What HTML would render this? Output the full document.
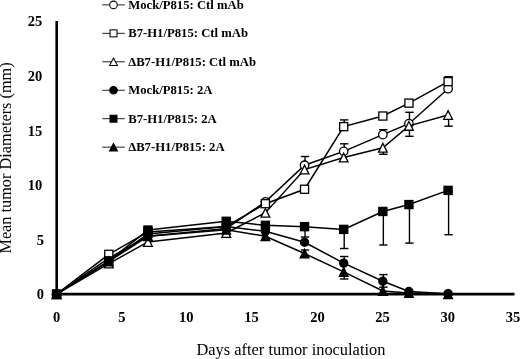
<!DOCTYPE html>
<html><head><meta charset="utf-8"><style>
html,body{margin:0;padding:0;background:#fff;}
svg{display:block;will-change:transform;}
.tk{font-family:"Liberation Serif",serif;font-weight:bold;font-size:14.5px;fill:#000;}
.ttl{font-family:"Liberation Serif",serif;font-size:16.4px;fill:#000;}
.lg{font-family:"Liberation Serif",serif;font-weight:bold;font-size:12.7px;fill:#000;}
</style></head><body>
<svg width="520" height="359" viewBox="0 0 520 359">
<line x1="56.7" y1="21" x2="56.7" y2="295.5" stroke="#000" stroke-width="2.6"/>
<line x1="55.5" y1="294.2" x2="514.5" y2="294.2" stroke="#000" stroke-width="2.8"/>
<text x="43.90" y="299.05" text-anchor="end" class="tk">0</text>
<text x="43.90" y="245.20" text-anchor="end" class="tk">5</text>
<text x="42.30" y="189.75" text-anchor="end" class="tk">10</text>
<text x="42.30" y="135.80" text-anchor="end" class="tk">15</text>
<text x="42.30" y="81.25" text-anchor="end" class="tk">20</text>
<text x="42.30" y="25.80" text-anchor="end" class="tk">25</text>
<text x="56.60" y="321.9" text-anchor="middle" class="tk">0</text>
<text x="121.80" y="321.9" text-anchor="middle" class="tk">5</text>
<text x="186.20" y="321.9" text-anchor="middle" class="tk">10</text>
<text x="251.40" y="321.9" text-anchor="middle" class="tk">15</text>
<text x="317.40" y="321.9" text-anchor="middle" class="tk">20</text>
<text x="382.60" y="321.9" text-anchor="middle" class="tk">25</text>
<text x="447.80" y="321.9" text-anchor="middle" class="tk">30</text>
<text x="513.00" y="321.9" text-anchor="middle" class="tk">35</text>
<text x="196.5" y="355.4" class="ttl">Days after tumor inoculation</text>
<text transform="translate(10.8,253.6) rotate(-90)" x="0" y="0" class="ttl" style="font-size:16.3px">Mean tumor Diameters (mm)</text>
<line x1="305.05" y1="165.23" x2="305.05" y2="156.50" stroke="#000" stroke-width="1.4"/>
<line x1="300.85" y1="156.50" x2="309.25" y2="156.50" stroke="#000" stroke-width="1.4"/>
<line x1="344.20" y1="151.34" x2="344.20" y2="143.80" stroke="#000" stroke-width="1.4"/>
<line x1="340.00" y1="143.80" x2="348.40" y2="143.80" stroke="#000" stroke-width="1.4"/>
<line x1="383.35" y1="134.62" x2="383.35" y2="129.70" stroke="#000" stroke-width="1.4"/>
<line x1="379.15" y1="129.70" x2="387.55" y2="129.70" stroke="#000" stroke-width="1.4"/>
<line x1="344.20" y1="126.64" x2="344.20" y2="119.90" stroke="#000" stroke-width="1.4"/>
<line x1="340.00" y1="119.90" x2="348.40" y2="119.90" stroke="#000" stroke-width="1.4"/>
<line x1="448.60" y1="81.61" x2="448.60" y2="76.70" stroke="#000" stroke-width="1.4"/>
<line x1="444.40" y1="76.70" x2="452.80" y2="76.70" stroke="#000" stroke-width="1.4"/>
<line x1="409.45" y1="125.88" x2="409.45" y2="136.30" stroke="#000" stroke-width="1.4"/>
<line x1="405.25" y1="136.30" x2="413.65" y2="136.30" stroke="#000" stroke-width="1.4"/>
<line x1="409.45" y1="125.88" x2="409.45" y2="112.30" stroke="#000" stroke-width="1.4"/>
<line x1="405.25" y1="112.30" x2="413.65" y2="112.30" stroke="#000" stroke-width="1.4"/>
<line x1="448.60" y1="114.95" x2="448.60" y2="126.20" stroke="#000" stroke-width="1.4"/>
<line x1="444.40" y1="126.20" x2="452.80" y2="126.20" stroke="#000" stroke-width="1.4"/>
<line x1="383.35" y1="147.74" x2="383.35" y2="154.30" stroke="#000" stroke-width="1.4"/>
<line x1="379.15" y1="154.30" x2="387.55" y2="154.30" stroke="#000" stroke-width="1.4"/>
<line x1="305.05" y1="226.65" x2="305.05" y2="237.00" stroke="#000" stroke-width="1.4"/>
<line x1="300.85" y1="237.00" x2="309.25" y2="237.00" stroke="#000" stroke-width="1.4"/>
<line x1="344.20" y1="229.39" x2="344.20" y2="248.50" stroke="#000" stroke-width="1.4"/>
<line x1="340.00" y1="248.50" x2="348.40" y2="248.50" stroke="#000" stroke-width="1.4"/>
<line x1="383.35" y1="211.46" x2="383.35" y2="245.00" stroke="#000" stroke-width="1.4"/>
<line x1="379.15" y1="245.00" x2="387.55" y2="245.00" stroke="#000" stroke-width="1.4"/>
<line x1="409.45" y1="204.57" x2="409.45" y2="243.10" stroke="#000" stroke-width="1.4"/>
<line x1="405.25" y1="243.10" x2="413.65" y2="243.10" stroke="#000" stroke-width="1.4"/>
<line x1="448.60" y1="190.37" x2="448.60" y2="234.70" stroke="#000" stroke-width="1.4"/>
<line x1="444.40" y1="234.70" x2="452.80" y2="234.70" stroke="#000" stroke-width="1.4"/>
<line x1="344.20" y1="263.16" x2="344.20" y2="256.50" stroke="#000" stroke-width="1.4"/>
<line x1="340.00" y1="256.50" x2="348.40" y2="256.50" stroke="#000" stroke-width="1.4"/>
<line x1="383.35" y1="281.30" x2="383.35" y2="274.60" stroke="#000" stroke-width="1.4"/>
<line x1="379.15" y1="274.60" x2="387.55" y2="274.60" stroke="#000" stroke-width="1.4"/>
<line x1="344.20" y1="271.90" x2="344.20" y2="279.00" stroke="#000" stroke-width="1.4"/>
<line x1="340.00" y1="279.00" x2="348.40" y2="279.00" stroke="#000" stroke-width="1.4"/>
<line x1="305.05" y1="253.54" x2="305.05" y2="250.00" stroke="#000" stroke-width="1.4"/>
<line x1="300.85" y1="250.00" x2="309.25" y2="250.00" stroke="#000" stroke-width="1.4"/>
<line x1="383.35" y1="281.30" x2="383.35" y2="287.20" stroke="#000" stroke-width="1.4"/>
<line x1="379.15" y1="287.20" x2="387.55" y2="287.20" stroke="#000" stroke-width="1.4"/>
<polyline points="56.60,294.20 108.80,258.13 147.95,236.27 226.25,228.62 265.40,201.84 304.55,165.23 343.70,151.34 382.85,134.62 408.95,123.69 448.10,88.72" fill="none" stroke="#000" stroke-width="1.5"/>
<circle cx="56.60" cy="294.20" r="4.25" fill="#fff" stroke="#000" stroke-width="1.3"/>
<circle cx="108.80" cy="258.13" r="4.25" fill="#fff" stroke="#000" stroke-width="1.3"/>
<circle cx="147.95" cy="236.27" r="4.25" fill="#fff" stroke="#000" stroke-width="1.3"/>
<circle cx="226.25" cy="228.62" r="4.25" fill="#fff" stroke="#000" stroke-width="1.3"/>
<circle cx="265.40" cy="201.84" r="4.25" fill="#fff" stroke="#000" stroke-width="1.3"/>
<circle cx="304.55" cy="165.23" r="4.25" fill="#fff" stroke="#000" stroke-width="1.3"/>
<circle cx="343.70" cy="151.34" r="4.25" fill="#fff" stroke="#000" stroke-width="1.3"/>
<circle cx="382.85" cy="134.62" r="4.25" fill="#fff" stroke="#000" stroke-width="1.3"/>
<circle cx="408.95" cy="123.69" r="4.25" fill="#fff" stroke="#000" stroke-width="1.3"/>
<circle cx="448.10" cy="88.72" r="4.25" fill="#fff" stroke="#000" stroke-width="1.3"/>
<polyline points="56.60,294.20 108.80,254.31 147.95,231.90 226.25,226.43 265.40,203.70 304.55,189.27 343.70,126.64 382.85,116.04 408.95,103.14 448.10,81.61" fill="none" stroke="#000" stroke-width="1.5"/>
<rect x="52.55" y="290.15" width="8.10" height="8.10" fill="#fff" stroke="#000" stroke-width="1.3"/>
<rect x="104.75" y="250.26" width="8.10" height="8.10" fill="#fff" stroke="#000" stroke-width="1.3"/>
<rect x="143.90" y="227.85" width="8.10" height="8.10" fill="#fff" stroke="#000" stroke-width="1.3"/>
<rect x="222.20" y="222.38" width="8.10" height="8.10" fill="#fff" stroke="#000" stroke-width="1.3"/>
<rect x="261.35" y="199.65" width="8.10" height="8.10" fill="#fff" stroke="#000" stroke-width="1.3"/>
<rect x="300.50" y="185.22" width="8.10" height="8.10" fill="#fff" stroke="#000" stroke-width="1.3"/>
<rect x="339.65" y="122.59" width="8.10" height="8.10" fill="#fff" stroke="#000" stroke-width="1.3"/>
<rect x="378.80" y="111.99" width="8.10" height="8.10" fill="#fff" stroke="#000" stroke-width="1.3"/>
<rect x="404.90" y="99.09" width="8.10" height="8.10" fill="#fff" stroke="#000" stroke-width="1.3"/>
<rect x="444.05" y="77.56" width="8.10" height="8.10" fill="#fff" stroke="#000" stroke-width="1.3"/>
<polyline points="56.60,294.20 108.80,263.60 147.95,241.95 226.25,232.99 265.40,212.77 304.55,169.60 343.70,157.57 382.85,147.74 408.95,125.88 448.10,114.95" fill="none" stroke="#000" stroke-width="1.5"/>
<polygon points="56.60,289.85 60.95,298.55 52.25,298.55" fill="#fff" stroke="#000" stroke-width="1.3" stroke-linejoin="miter"/>
<polygon points="108.80,259.25 113.15,267.95 104.45,267.95" fill="#fff" stroke="#000" stroke-width="1.3" stroke-linejoin="miter"/>
<polygon points="147.95,237.60 152.30,246.30 143.60,246.30" fill="#fff" stroke="#000" stroke-width="1.3" stroke-linejoin="miter"/>
<polygon points="226.25,228.64 230.60,237.34 221.90,237.34" fill="#fff" stroke="#000" stroke-width="1.3" stroke-linejoin="miter"/>
<polygon points="265.40,208.42 269.75,217.12 261.05,217.12" fill="#fff" stroke="#000" stroke-width="1.3" stroke-linejoin="miter"/>
<polygon points="304.55,165.25 308.90,173.95 300.20,173.95" fill="#fff" stroke="#000" stroke-width="1.3" stroke-linejoin="miter"/>
<polygon points="343.70,153.22 348.05,161.92 339.35,161.92" fill="#fff" stroke="#000" stroke-width="1.3" stroke-linejoin="miter"/>
<polygon points="382.85,143.39 387.20,152.09 378.50,152.09" fill="#fff" stroke="#000" stroke-width="1.3" stroke-linejoin="miter"/>
<polygon points="408.95,121.53 413.30,130.23 404.60,130.23" fill="#fff" stroke="#000" stroke-width="1.3" stroke-linejoin="miter"/>
<polygon points="448.10,110.60 452.45,119.30 443.75,119.30" fill="#fff" stroke="#000" stroke-width="1.3" stroke-linejoin="miter"/>
<polyline points="56.60,294.20 108.80,261.41 147.95,234.08 226.25,226.43 265.40,231.35 304.55,242.28 343.70,263.16 382.85,281.30 408.95,291.47 448.10,293.65" fill="none" stroke="#000" stroke-width="1.5"/>
<circle cx="56.60" cy="294.20" r="4.05" fill="#000" stroke="#000" stroke-width="1.3"/>
<circle cx="108.80" cy="261.41" r="4.05" fill="#000" stroke="#000" stroke-width="1.3"/>
<circle cx="147.95" cy="234.08" r="4.05" fill="#000" stroke="#000" stroke-width="1.3"/>
<circle cx="226.25" cy="226.43" r="4.05" fill="#000" stroke="#000" stroke-width="1.3"/>
<circle cx="265.40" cy="231.35" r="4.05" fill="#000" stroke="#000" stroke-width="1.3"/>
<circle cx="304.55" cy="242.28" r="4.05" fill="#000" stroke="#000" stroke-width="1.3"/>
<circle cx="343.70" cy="263.16" r="4.05" fill="#000" stroke="#000" stroke-width="1.3"/>
<circle cx="382.85" cy="281.30" r="4.05" fill="#000" stroke="#000" stroke-width="1.3"/>
<circle cx="408.95" cy="291.47" r="4.05" fill="#000" stroke="#000" stroke-width="1.3"/>
<circle cx="448.10" cy="293.65" r="4.05" fill="#000" stroke="#000" stroke-width="1.3"/>
<polyline points="56.60,294.20 108.80,260.86 147.95,230.04 226.25,221.30 265.40,225.34 304.55,226.65 343.70,229.39 382.85,211.46 408.95,204.57 448.10,190.37" fill="none" stroke="#000" stroke-width="1.5"/>
<rect x="52.55" y="290.15" width="8.10" height="8.10" fill="#000" stroke="#000" stroke-width="1.3"/>
<rect x="104.75" y="256.81" width="8.10" height="8.10" fill="#000" stroke="#000" stroke-width="1.3"/>
<rect x="143.90" y="225.99" width="8.10" height="8.10" fill="#000" stroke="#000" stroke-width="1.3"/>
<rect x="222.20" y="217.25" width="8.10" height="8.10" fill="#000" stroke="#000" stroke-width="1.3"/>
<rect x="261.35" y="221.29" width="8.10" height="8.10" fill="#000" stroke="#000" stroke-width="1.3"/>
<rect x="300.50" y="222.60" width="8.10" height="8.10" fill="#000" stroke="#000" stroke-width="1.3"/>
<rect x="339.65" y="225.34" width="8.10" height="8.10" fill="#000" stroke="#000" stroke-width="1.3"/>
<rect x="378.80" y="207.41" width="8.10" height="8.10" fill="#000" stroke="#000" stroke-width="1.3"/>
<rect x="404.90" y="200.52" width="8.10" height="8.10" fill="#000" stroke="#000" stroke-width="1.3"/>
<rect x="444.05" y="186.32" width="8.10" height="8.10" fill="#000" stroke="#000" stroke-width="1.3"/>
<polyline points="56.60,294.20 108.80,261.41 147.95,236.27 226.25,229.71 265.40,236.27 304.55,253.54 343.70,271.90 382.85,290.92 408.95,293.11 448.10,294.20" fill="none" stroke="#000" stroke-width="1.5"/>
<polygon points="56.60,289.85 60.95,298.55 52.25,298.55" fill="#000" stroke="#000" stroke-width="1.3" stroke-linejoin="miter"/>
<polygon points="108.80,257.06 113.15,265.76 104.45,265.76" fill="#000" stroke="#000" stroke-width="1.3" stroke-linejoin="miter"/>
<polygon points="147.95,231.92 152.30,240.62 143.60,240.62" fill="#000" stroke="#000" stroke-width="1.3" stroke-linejoin="miter"/>
<polygon points="226.25,225.36 230.60,234.06 221.90,234.06" fill="#000" stroke="#000" stroke-width="1.3" stroke-linejoin="miter"/>
<polygon points="265.40,231.92 269.75,240.62 261.05,240.62" fill="#000" stroke="#000" stroke-width="1.3" stroke-linejoin="miter"/>
<polygon points="304.55,249.19 308.90,257.89 300.20,257.89" fill="#000" stroke="#000" stroke-width="1.3" stroke-linejoin="miter"/>
<polygon points="343.70,267.55 348.05,276.25 339.35,276.25" fill="#000" stroke="#000" stroke-width="1.3" stroke-linejoin="miter"/>
<polygon points="382.85,286.57 387.20,295.27 378.50,295.27" fill="#000" stroke="#000" stroke-width="1.3" stroke-linejoin="miter"/>
<polygon points="408.95,288.76 413.30,297.46 404.60,297.46" fill="#000" stroke="#000" stroke-width="1.3" stroke-linejoin="miter"/>
<polygon points="448.10,289.85 452.45,298.55 443.75,298.55" fill="#000" stroke="#000" stroke-width="1.3" stroke-linejoin="miter"/>
<line x1="102.3" y1="4.90" x2="124.8" y2="4.90" stroke="#222" stroke-width="1.0"/>
<circle cx="113.50" cy="4.90" r="3.77" fill="#fff" stroke="#000" stroke-width="1.05"/>
<text x="128.2" y="8.90" class="lg">Mock/P815: Ctl mAb</text>
<line x1="102.3" y1="33.35" x2="124.8" y2="33.35" stroke="#222" stroke-width="1.0"/>
<rect x="110.03" y="29.88" width="6.95" height="6.95" fill="#fff" stroke="#000" stroke-width="1.05"/>
<text x="128.2" y="37.35" class="lg">B7-H1/P815: Ctl mAb</text>
<line x1="102.3" y1="61.80" x2="124.8" y2="61.80" stroke="#222" stroke-width="1.0"/>
<polygon points="113.50,58.07 117.47,65.52 109.53,65.52" fill="#fff" stroke="#000" stroke-width="1.05" stroke-linejoin="miter"/>
<text x="128.2" y="65.80" class="lg">ΔB7-H1/P815: Ctl mAb</text>
<line x1="102.3" y1="90.25" x2="124.8" y2="90.25" stroke="#222" stroke-width="1.0"/>
<circle cx="113.50" cy="90.25" r="3.77" fill="#000" stroke="#000" stroke-width="1.05"/>
<text x="128.2" y="94.25" class="lg">Mock/P815: 2A</text>
<line x1="102.3" y1="118.70" x2="124.8" y2="118.70" stroke="#222" stroke-width="1.0"/>
<rect x="110.03" y="115.23" width="6.95" height="6.95" fill="#000" stroke="#000" stroke-width="1.05"/>
<text x="128.2" y="122.70" class="lg">B7-H1/P815: 2A</text>
<line x1="102.3" y1="147.15" x2="124.8" y2="147.15" stroke="#222" stroke-width="1.0"/>
<polygon points="113.50,143.43 117.47,150.88 109.53,150.88" fill="#000" stroke="#000" stroke-width="1.05" stroke-linejoin="miter"/>
<text x="128.2" y="151.15" class="lg">ΔB7-H1/P815: 2A</text>
</svg>
</body></html>
